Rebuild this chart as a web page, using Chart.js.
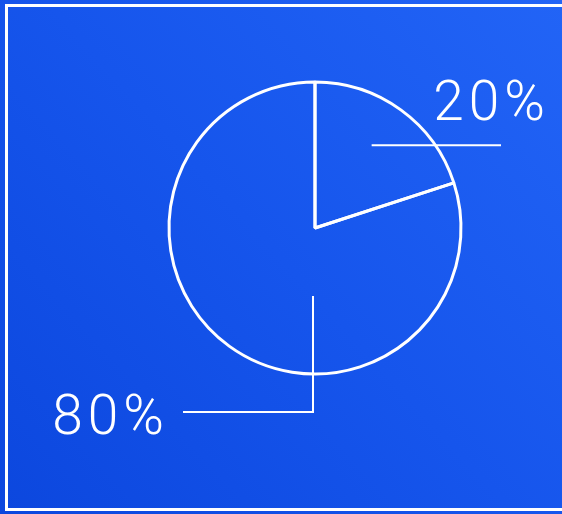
<!DOCTYPE html>
<html>
<head>
<meta charset="utf-8">
<script src="https://cdn.jsdelivr.net/npm/chart.js@4/dist/chart.umd.min.js"></script>
<style>
  html, body { margin: 0; padding: 0; background: #1d5df3; overflow: hidden; }
  #wrap { position: relative; width: 562px; height: 514px; }
  canvas { display: block; }
</style>
</head>
<body>
<div id="wrap"><canvas id="pie" width="562" height="514"></canvas></div>
<script>
// Share of the whole, in percent
const categories = ['A', 'B'];
const shares = [20, 80];
const labels = ['20%', '80%'];

const WHITE = '#ffffff';
const FONT = '300 55px Roboto, "Liberation Sans", Arial, sans-serif';

// Gradient backdrop, thin frame, and callout lines with percentage labels
const decor = {
  id: 'decor',
  beforeDraw(chart) {
    const { ctx } = chart;
    const w = ctx.canvas.width;
    const h = ctx.canvas.height;
    ctx.save();
    const g = ctx.createLinearGradient(0, h, w, 0);
    g.addColorStop(0, '#0c47de');
    g.addColorStop(0.5, '#1655ec');
    g.addColorStop(1, '#2264f6');
    ctx.fillStyle = g;
    ctx.fillRect(0, 0, w, h);
    // frame open on the right side: top, left and bottom edges only
    ctx.strokeStyle = WHITE;
    ctx.lineWidth = 3;
    ctx.lineCap = 'butt';
    ctx.beginPath();
    ctx.moveTo(6.5, 5.5);
    ctx.lineTo(w + 40, 5.5);
    ctx.moveTo(6.5, 4);
    ctx.lineTo(6.5, h - 3);
    ctx.moveTo(6.5, h - 4.5);
    ctx.lineTo(w + 40, h - 4.5);
    ctx.stroke();
    ctx.restore();
  },
  afterDatasetsDraw(chart) {
    const { ctx } = chart;
    const arcs = chart.getDatasetMeta(0).data;
    ctx.save();
    ctx.strokeStyle = WHITE;
    ctx.fillStyle = WHITE;
    ctx.lineWidth = 2;
    ctx.font = FONT;
    ctx.letterSpacing = '5px';
    ctx.textBaseline = 'alphabetic';
    ctx.textAlign = 'left';

    // small slice: callout from inside the slice, running right
    const a0 = arcs[0];
    const r = a0.outerRadius;
    const mid = (a0.startAngle + a0.endAngle) / 2;
    const sx = a0.x + Math.cos(mid) * r * 0.66;
    const sy = a0.y + Math.sin(mid) * r * 0.70;
    ctx.beginPath();
    ctx.moveTo(sx, sy);
    ctx.lineTo(a0.x + r * 1.274, sy);
    ctx.stroke();
    ctx.fillText(labels[0], a0.x + r * 0.81, a0.y - r * 0.74);

    // large slice: callout down from below the centre, then left
    const a1 = arcs[1];
    const bx = a1.x - 2;
    const by = a1.y + r * 0.466;
    const ey = a1.y + r * 1.26;
    ctx.beginPath();
    ctx.moveTo(bx, by);
    ctx.lineTo(bx, ey);
    ctx.lineTo(a1.x - r * 0.904, ey);
    ctx.stroke();
    ctx.fillText(labels[1], a1.x - r * 1.8, a1.y + r * 1.41);
    ctx.restore();
  }
};

new Chart(document.getElementById('pie'), {
  type: 'pie',
  data: {
    labels: categories,
    datasets: [{
      data: shares,
      backgroundColor: 'rgba(0,0,0,0)',
      borderColor: WHITE,
      borderWidth: 3,
      hoverOffset: 0
    }]
  },
  options: {
    responsive: false,
    animation: false,
    layout: { padding: { left: 167.5, top: 80.5, right: 99.5, bottom: 138.5 } },
    plugins: { legend: { display: false }, tooltip: { enabled: false } },
    events: []
  },
  plugins: [decor]
});
</script>
</body>
</html>
